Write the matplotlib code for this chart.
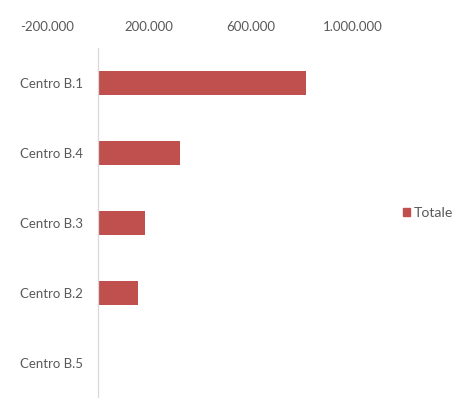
import matplotlib
matplotlib.use("Agg")
import matplotlib.pyplot as plt
from matplotlib.ticker import FuncFormatter
from matplotlib.patches import Patch

centri = ["Centro B.1", "Centro B.4", "Centro B.3", "Centro B.2", "Centro B.5"]
totale = [815000, 323000, 185000, 155000, 0]
x_ticks = [-200000, 200000, 600000, 1000000]

bar_color = "#C0504D"
text_color = "#595959"

plt.rcParams["font.family"] = ["Lato", "DejaVu Sans"]

fig = plt.figure(figsize=(4.55, 3.98), dpi=100)
ax = fig.add_axes([47 / 455, 0.0, 306 / 455, 1 - 48 / 398])

pos = list(range(len(centri)))
ax.barh(pos, totale, height=0.34, color=bar_color)

ax.set_xlim(-200000, 1000000)
ax.set_ylim(len(centri) - 0.5, -0.5)

# x axis on top, italian thousands separator
ax.xaxis.tick_top()
ax.set_xticks(x_ticks)
ax.xaxis.set_major_formatter(FuncFormatter(lambda v, p: f"{int(v):,}".replace(",", ".")))
ax.tick_params(axis="x", length=0, pad=11, labelsize=9.5, labelcolor=text_color)

ax.set_yticks(pos)
ax.set_yticklabels(centri)
ax.tick_params(axis="y", length=0, pad=11, labelsize=9.5, labelcolor=text_color)

for s in ["top", "right", "bottom"]:
    ax.spines[s].set_visible(False)
ax.spines["left"].set_position(("data", 0))
ax.spines["left"].set_color("#D9D9D9")
ax.spines["left"].set_linewidth(0.9)

fig.legend(handles=[Patch(color=bar_color, label="Totale")],
           loc="center left", bbox_to_anchor=(390 / 455, 1 - 213 / 398),
           frameon=False, fontsize=10.2, handlelength=0.5, handleheight=0.5,
           handletextpad=0.3, labelcolor=text_color)

fig.savefig("out.png", dpi=100)
